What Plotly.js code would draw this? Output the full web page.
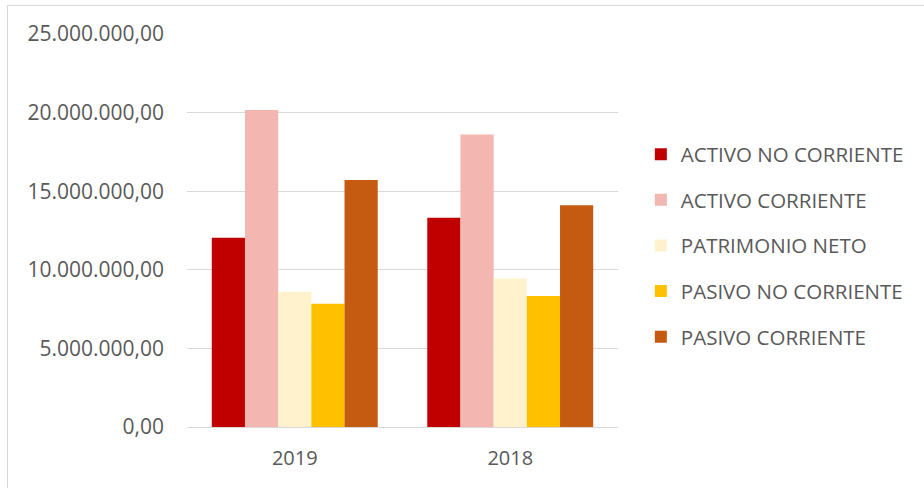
<!DOCTYPE html>
<html>
<head>
<meta charset="utf-8">
<script src="https://cdn.plot.ly/plotly-3.0.1.min.js"></script>
<style>
html,body{margin:0;padding:0;background:#fff;}
#wrap{position:relative;width:924px;height:488px;overflow:hidden;}
#frame{position:absolute;left:7px;top:5px;width:940px;height:500px;border:1px solid #d9d9d9;box-sizing:border-box;pointer-events:none;z-index:5;}
#chart{position:absolute;left:0;top:0;width:924px;height:488px;}
</style>
</head>
<body>
<div id="wrap"><div id="chart"></div><div id="frame"></div></div>
<script>
const categories = ["2019", "2018"];
const seriesNames = ["ACTIVO NO CORRIENTE", "ACTIVO CORRIENTE", "PATRIMONIO NETO", "PASIVO NO CORRIENTE", "PASIVO CORRIENTE"];
const activoNoCorriente = [12040000, 13310000];
const activoCorriente = [20170000, 18600000];
const patrimonioNeto = [8610000, 9450000];
const pasivoNoCorriente = [7840000, 8330000];
const pasivoCorriente = [15710000, 14110000];
const colors = ["#C00000", "#F4B6B0", "#FFF2CC", "#FFC000", "#C55A11"];

const values = [activoNoCorriente, activoCorriente, patrimonioNeto, pasivoNoCorriente, pasivoCorriente];
const traces = values.map((v, i) => ({
  type: "bar",
  name: seriesNames[i],
  x: categories,
  y: v,
  marker: {color: colors[i], line: {width: 0}},
  legendgroup: "g" + i,
  hoverinfo: "skip"
}));

const FONT = "Open Sans, Liberation Sans, Arial, sans-serif";
const layout = {
  width: 924, height: 488,
  margin: {l: 187, r: 306, t: 34, b: 61, pad: 0},
  paper_bgcolor: "#ffffff",
  plot_bgcolor: "#ffffff",
  separators: ",.",
  font: {family: FONT, size: 19, color: "#595959"},
  barmode: "group",
  bargap: 0.23,
  bargroupgap: 0,
  showlegend: true,
  legend: {
    x: 1.053, xanchor: "left", y: 0.461, yanchor: "middle",
    traceorder: "grouped",
    tracegroupgap: 16,
    font: {family: FONT, size: 20.5, color: "#595959"},
    itemclick: false
  },
  xaxis: {
    type: "category",
    showgrid: false,
    showline: true, linecolor: "#d9d9d9", linewidth: 1,
    ticks: "", ticklabelstandoff: 13,
    tickfont: {family: FONT, size: 20, color: "#595959"}
  },
  yaxis: {
    range: [0, 25000000],
    tickvals: [0, 5000000, 10000000, 15000000, 20000000, 25000000],
    tickformat: ",.2f",
    showgrid: true, gridcolor: "#d9d9d9", gridwidth: 1,
    zeroline: false, showline: false,
    ticks: "", ticklabelstandoff: 22,
    tickfont: {family: FONT, size: 21, color: "#595959"}
  }
};

Plotly.newPlot("chart", traces, layout, {displayModeBar: false, staticPlot: true});
</script>
</body>
</html>
